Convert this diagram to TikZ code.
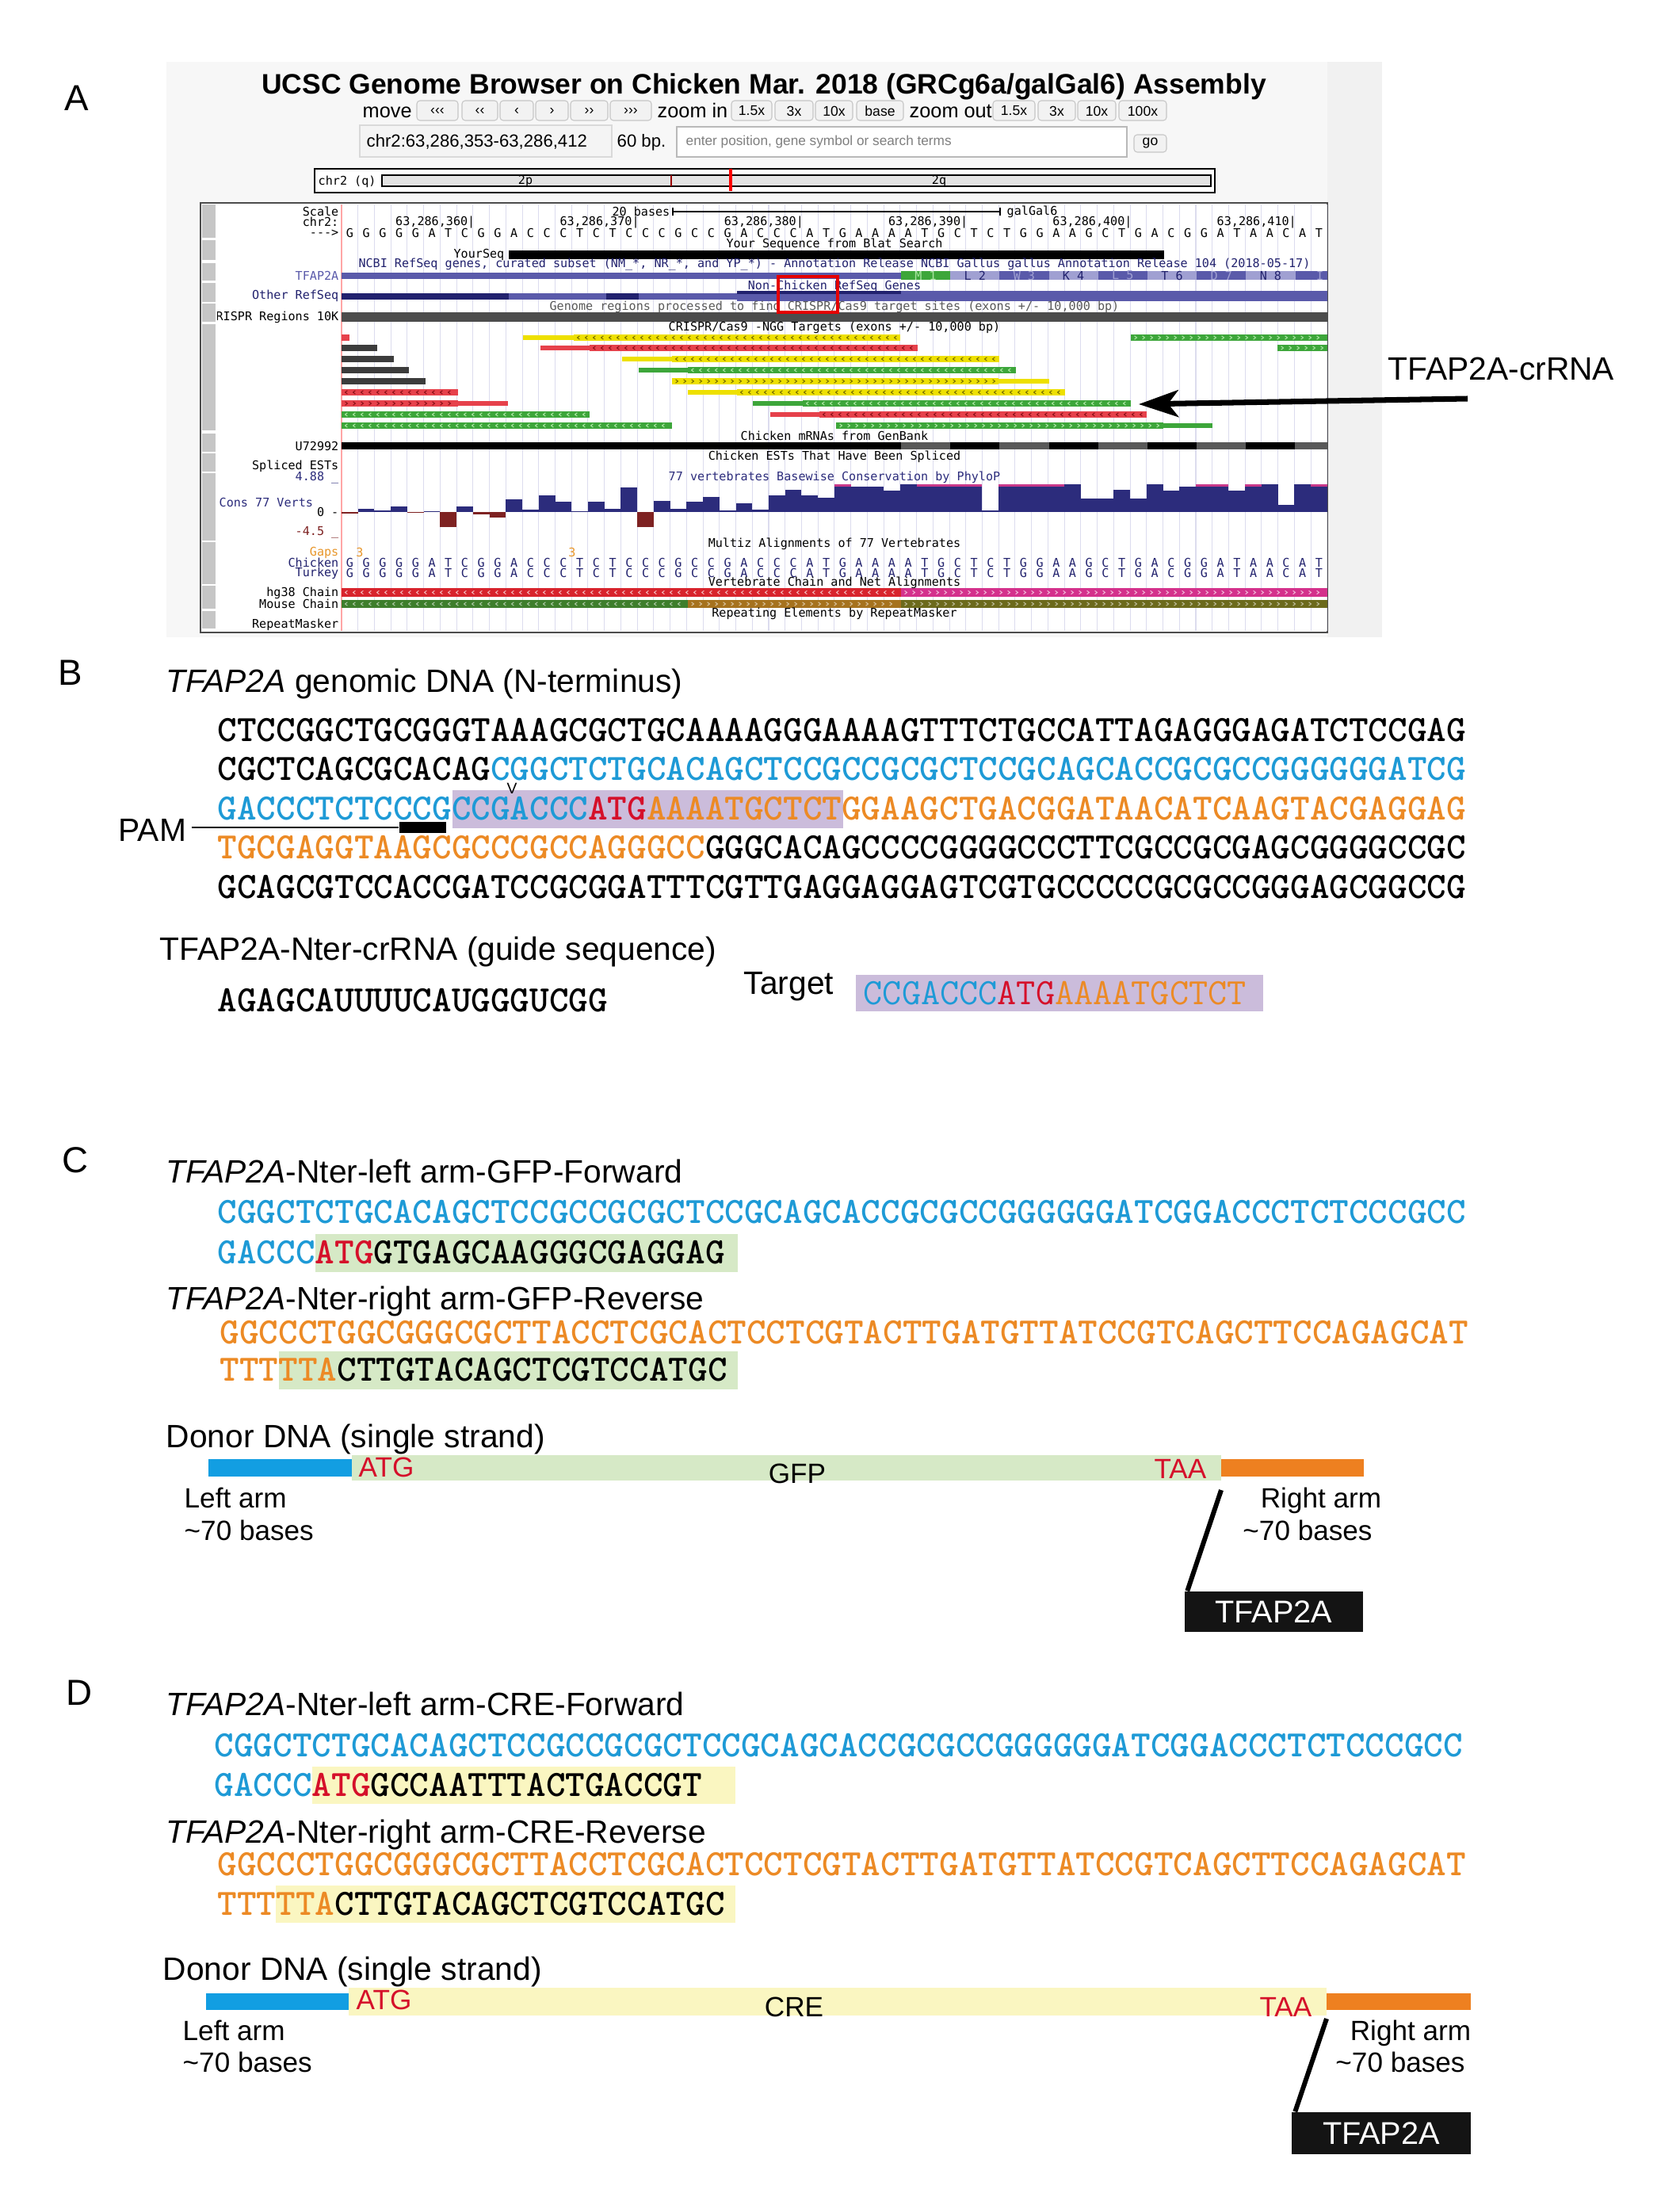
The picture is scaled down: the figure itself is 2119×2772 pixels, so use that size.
\documentclass[tikz,border=0pt]{standalone}
\usepackage{fontspec}
\setmainfont{Liberation Sans}
\newfontfamily\ucscfont{DejaVu Sans Mono}
\usetikzlibrary{arrows.meta}

\definecolor{armblue}{HTML}{1E9AD6}
\definecolor{armorange}{HTML}{EC8A25}
\definecolor{atgred}{HTML}{D5102A}
\definecolor{lavender}{HTML}{CBBCDB}
\definecolor{gfpgreen}{HTML}{D6E9C6}
\definecolor{creyellow}{HTML}{FAF6C1}
\definecolor{barblue}{HTML}{129EE2}
\definecolor{barorange}{HTML}{EE8020}
\definecolor{navy}{HTML}{22226E}
\definecolor{genecol}{HTML}{5A5AAA}
\definecolor{genelight}{HTML}{A0A0D2}
\definecolor{gridcol}{HTML}{DCDCEE}
\definecolor{crY}{HTML}{EEE000}
\definecolor{crR}{HTML}{E6414B}
\definecolor{crG}{HTML}{3DA63A}
\definecolor{crK}{HTML}{3C3C3C}
\definecolor{chY}{HTML}{7A7000}
\definecolor{chR}{HTML}{8E1018}
\definecolor{chG}{HTML}{A8E4A0}
\definecolor{consblue}{HTML}{2C2C7C}
\definecolor{consred}{HTML}{7E2222}
\definecolor{magcap}{HTML}{C8388A}
\definecolor{gapor}{HTML}{E8962A}
\definecolor{hgred}{HTML}{D8232C}
\definecolor{hgpink}{HTML}{D4318C}
\definecolor{mmgreen}{HTML}{3E7E2C}
\definecolor{mmbrown}{HTML}{A6721E}
\definecolor{mmolive}{HTML}{6C6A1C}

\begin{document}
\begin{tikzpicture}[x=0.1mm, y=-0.1mm,
  ut/.style={font=\ucscfont\fontsize{4.3}{5}\selectfont, inner sep=0pt},
  lab/.style={ut, anchor=east},
  panel/.style={font=\fontsize{13}{15}\selectfont, anchor=base west, inner sep=0pt},
  head/.style={font=\fontsize{11.6}{14}\selectfont, anchor=base west, inner sep=0pt},
  small/.style={font=\fontsize{10}{12}\selectfont, anchor=base, inner sep=0pt},
  seq/.style={font=\ttfamily\bfseries\fontsize{13.34}{16}\selectfont, anchor=base west, inner sep=0pt},
  btn/.style={draw=gray!45, fill=gray!10, rounded corners=0.4mm, line width=0.3pt},
  btntext/.style={font=\fontsize{5}{6}\selectfont, inner sep=0pt},
  nav/.style={font=\fontsize{7.2}{8}\selectfont, anchor=base west, inner sep=0pt},
  tfbox/.style={fill=black!92, text=white, font=\fontsize{11.3}{13}\selectfont, inner sep=0pt}]
    \newcommand{\chevs}[5]{
        \pgfmathsetmacro{\chvA}{#3+6}\pgfmathsetmacro{\chvB}{#3+16}\pgfmathsetmacro{\chvZ}{#4-4}
        \foreach \cx in {\chvA,\chvB,...,\chvZ}
          \draw[#1, line width=0.3pt] ({\cx-1.4*(#5)},#2-2.2) -- ({\cx+1.4*(#5)},#2) -- ({\cx-1.4*(#5)},#2+2.2);
    }
    \newcommand{\crbar}[7]{
        \fill[cr#1] (#3,#2-2.7) rectangle (#6,#2+2.7);
        \fill[cr#1] (#4,#2-4.3) rectangle (#5,#2+4.3);
        \chevs{ch#1}{#2}{#4}{#5}{#7}
    }
\useasboundingbox (0,0) rectangle (2119,2772);

% A: genome browser
\node[panel] (labA) at (81,140) {A};
\fill[gray!6] (210,78) rectangle (1744,804);
\fill[gray!11] (1675,78) rectangle (1744,804);
\node[font=\bfseries\fontsize{10.1}{12}\selectfont, anchor=base, inner sep=0pt] (title) at (964,119)
  {UCSC Genome Browser on Chicken Mar. 2018 (GRCg6a/galGal6) Assembly};
\node[nav] (move) at (457,149) {move};
\node[nav] (zin) at (829,149) {zoom in};
\node[nav] (zout) at (1147,149) {zoom out};
\foreach \t/\a/\b [count=\i] in {‹‹‹/526/578, ‹‹/583/628, ‹/631/673, ›/676/717, ››/720/767, ›››/770/822,
    1.5x/923/974, 3x/978/1026, 10x/1029/1076, base/1081/1140, 1.5x/1253/1306, 3x/1310/1357, 10x/1360/1408, 100x/1412/1472}{
  \draw[btn] (\a,127) rectangle (\b,152);
  \node[btntext] (nav\i) at ({(\a+\b)/2},140) {\t};
}
\draw[draw=gray!30, fill=gray!9] (454,158) rectangle (772,198);
\node[nav, font=\fontsize{6.3}{7}\selectfont] (pos) at (462,186) {chr2:63,286,353-63,286,412};
\node[nav, font=\fontsize{6.3}{7}\selectfont] (bp) at (778,186) {60 bp.};
\draw[draw=gray!55, fill=white, line width=0.4pt] (854,160) rectangle (1422,198);
\node[nav, font=\fontsize{4.9}{6}\selectfont, text=gray] (search) at (865,184) {enter position, gene symbol or search terms};
\draw[btn] (1431,170) rectangle (1472,192);
\node[btntext] (go) at (1451.5,181) {go};
\draw[fill=white, line width=0.4pt] (397,213) rectangle (1533,243);
\node[ut, anchor=west] (chrq) at (401,229) {chr2 (q)};
\draw[fill=gray!22, line width=0.4pt] (482,221) rectangle (1528,235);
\node[ut] (p2) at (663,228) {2p};
\node[ut] (q2) at (1185,228) {2q};
\draw[red!60!black, line width=0.5pt] (847,221) -- (847,235);
\draw[red, line width=1.1pt] (922,213) -- (922,241);

\draw[fill=white, draw=gray!60!black, line width=0.5pt] (253,256) rectangle (1675,798);
\foreach \a/\b in {258/300, 303/328, 332/354, 357/381, 383/406, 409/543, 547/570, 572/595, 597/682, 684/737, 739/768, 771/793}
  \fill[gray!45] (255,\a) rectangle (272,\b);
\begin{scope}
\clip (274,256) rectangle (1675,798);
\foreach \i in {0,...,60}
  \draw[gridcol, line width=0.3pt] ({431+20.73*\i},258) -- ({431+20.73*\i},796);
\draw[red!35, line width=0.3pt] (431,258) -- (431,796);

\node[lab] (scale) at (428,267) {Scale};
\node[ut, anchor=east] (b20) at (846,267) {20 bases};
\draw[line width=0.4pt] (849,262) -- (849,272) (849,267) -- (1262,267) (1262,262) -- (1262,272);
\node[ut, anchor=west] (gal) at (1270,267) {galGal6};
\node[lab] (chr) at (428,280) {chr2:};
\foreach \p [count=\i from 0] in {360,370,380,390,400,410}
  \node[ut, anchor=east] (tick\p) at ({600+207.3*\i},281) {63,286,\p|};
\node[lab] (fwd) at (428,294) {-{}-{}-{}>};
\foreach \b [count=\i from 0] in {G,G,G,G,G,A,T,C,G,G,A,C,C,C,T,C,T,C,C,C,G,C,C,G,A,C,C,C,A,T,
                                  G,A,A,A,A,T,G,C,T,C,T,G,G,A,A,G,C,T,G,A,C,G,G,A,T,A,A,C,A,T}{
  \node[ut] (s\i) at ({441.4+20.73*\i},294) {\b};
  \node[ut, text=navy] (k\i) at ({441.4+20.73*\i},710) {\b};
  \node[ut, text=navy] (t\i) at ({441.4+20.73*\i},723) {\b};
}

\node[ut] (blat) at (1053,308) {Your Sequence from Blat Search};
\node[ut, anchor=east] (yours) at (637,321) {YourSeq};
\fill[black] (642,316) rectangle (1469,327);
\node[ut, text=navy] (ncbi) at (1053,334) {NCBI RefSeq genes, curated subset (NM\_*, NR\_*, and YP\_*) - Annotation Release NCBI Gallus gallus Annotation Release 104 (2018-05-17)};
\node[lab, text=genecol] (tfl) at (428,348) {TFAP2A};
\fill[genecol] (431,344) rectangle (1137,352);
\foreach \t/\c/\f [count=\i from 0] in {M 1/crG/chG, L 2/genelight/navy, W 3/genecol/genelight, K 4/genelight/navy, L 5/genecol/genelight,
                                       T 6/genelight/navy, D 7/genecol/genelight, N 8/genelight/navy, I/genecol/genelight}{
  \fill[\c] ({1137+62.2*\i},342) rectangle +(62.2,11);
  \node[ut, text=\f] (ex\i) at ({1168+62.2*\i},347.5) {\t};
}
\node[ut, text=navy] (nonch) at (1053,361) {Non-Chicken RefSeq Genes};
\node[lab, text=navy] (other) at (428,373) {Other RefSeq};
\fill[navy] (431,370) rectangle (642,378);
\fill[genecol] (642,370) rectangle (765,378);
\fill[navy] (765,370) rectangle (806,378);
\fill[genecol] (806,370) rectangle (930,378);
\fill[genecol] (930,367) rectangle (1675,380);
\fill[navy] (930,367) rectangle (1137,371);
\node[ut, text=gray!70!black] (regions) at (1053,387) {Genome regions processed to find CRISPR/Cas9 target sites (exons +/- 10,000 bp)};
\node[lab] (crreg) at (428,400) {CRISPR Regions 10K};
\fill[gray!60!black] (431,394) rectangle (1675,406);
\node[ut] (ngg) at (1053,413) {CRISPR/Cas9 -NGG Targets (exons +/- 10,000 bp)};

\fill[crR] (431,421.7) rectangle (441,430.3);
\foreach \y/\e in {439/476, 453/497, 467/516, 481/537}
  \fill[crK] (431,\y-4.3) rectangle (\e,\y+4.3);
\crbar{Y}{426}{660}{724}{1136}{1136}{-1}
\crbar{G}{426}{1427}{1427}{1675}{1675}{1}
\crbar{R}{439}{682}{744}{1158}{1158}{-1}
\crbar{G}{439}{1612}{1612}{1675}{1675}{1}
\crbar{Y}{453}{785}{848}{1261}{1261}{-1}
\crbar{G}{467}{806}{868}{1282}{1282}{-1}
\crbar{Y}{481}{848}{848}{1260}{1324}{1}
\crbar{R}{495}{431}{431}{578}{578}{-1}
\crbar{Y}{495}{868}{930}{1344}{1344}{-1}
\crbar{R}{509}{431}{431}{578}{641}{1}
\crbar{G}{509}{950}{1013}{1427}{1427}{-1}
\crbar{G}{523}{431}{431}{744}{744}{-1}
\crbar{R}{523}{972}{1034}{1447}{1447}{-1}
\crbar{G}{537}{431}{431}{848}{848}{-1}
\crbar{G}{537}{1055}{1055}{1468}{1530}{1}

\node[ut] (mrna) at (1053,550) {Chicken mRNAs from GenBank};
\node[lab] (u72) at (428,563) {U72992};
\fill[black] (431,558) rectangle (1137,567);
\fill[gray!70!black] (1137,558) rectangle (1675,567);
\foreach \a in {1199,1324,1448,1572}
  \fill[black] (\a,558) rectangle +(62,9);
\node[ut] (ests) at (1053,576) {Chicken ESTs That Have Been Spliced};
\node[lab] (spl) at (428,588) {Spliced ESTs};
\node[ut, text=consblue] (phylo) at (1053,602) {77 vertebrates Basewise Conservation by PhyloP};
\node[lab, text=consblue] (top) at (428,603) {4.88 \_};
\node[ut, anchor=west, text=consblue] (cons) at (276,634) {Cons 77 Verts};
\node[lab] (zero) at (428,646) {0 -};
\node[lab, text=consred] (bot) at (428,672) {-4.5 \_};
\foreach \h [count=\i from 0] in {0,4.3,1.7,7.3,0,1,0,7.3,0,0,15.7,3.3,20.7,12.7,1,12.7,4.3,30.7,0,14,4.3,12.7,19.3,1.7,11,3,20.7,27.7,20.7,17.7,
                                  35,31.7,31.7,26.7,35,35,35,35,35,1.7,35,35,35,35,35,16.7,16.7,27.7,16.7,35,26.7,31.7,35,35,26.7,35,35,9.3,35,35}
  \fill[consblue] ({431+20.73*\i},646) rectangle +(20.73,-\h);
\foreach \b/\h in {0/2.3, 4/1, 6/19, 8/2.7, 9/6.7, 18/19}
  \fill[consred] ({431+20.73*\b},646) rectangle +(20.73,\h);
\foreach \b in {30,35,36,37,38,40,41,42,43,52,53,55,59}
  \fill[magcap] ({431+20.73*\b},611) rectangle +(20.73,2.5);
\node[ut] (multiz) at (1053,686) {Multiz Alignments of 77 Vertebrates};
\node[lab, text=gapor] (gaps) at (428,697) {Gaps};
\node[ut, text=gapor] (gap1) at (454,697) {3};
\node[ut, text=gapor] (gap2) at (722,697) {3};
\node[lab, text=navy] (chick) at (428,710) {Chicken};
\node[lab, text=navy] (turk) at (428,723) {Turkey};
\node[ut] (vchain) at (1053,735) {Vertebrate Chain and Net Alignments};
\node[lab] (hg) at (428,748) {hg38 Chain};
\fill[hgred] (431,742) rectangle (1137,753);
\fill[hgpink] (1137,742) rectangle (1675,753);
\chevs{hgred!35!white}{747.5}{431}{1137}{-1}
\chevs{hgpink!35!white}{747.5}{1137}{1675}{1}
\node[lab] (mm) at (428,762) {Mouse Chain};
\fill[mmgreen] (431,757) rectangle (868,767);
\fill[mmbrown] (868,757) rectangle (1137,767);
\fill[mmolive] (1137,757) rectangle (1675,767);
\chevs{mmgreen!45!white}{762}{431}{868}{-1}
\chevs{mmbrown!45!white}{762}{868}{1137}{1}
\chevs{mmolive!45!white}{762}{1137}{1675}{1}
\node[ut] (rep) at (1053,774) {Repeating Elements by RepeatMasker};
\node[lab] (rmask) at (428,788) {RepeatMasker};
\draw[red!90!black, line width=1.3pt] (982,349) rectangle (1057,394);
\end{scope}

\node[head] (crlab) at (1751,480) {TFAP2A-crRNA};
\coordinate (crtail) at (1852,503);
\coordinate (crtip) at (1437,510);
\draw[line width=2pt, -{Stealth[length=5mm, width=3.4mm, inset=1.3mm]}] (crtail) -- (crtip);

% B: genomic sequence
\node[panel] (labB) at (73,864) {B};
\node[head] (headB) at (209,873) {{\itshape TFAP2A} genomic DNA (N-terminus)};
\node[seq] (b1) at (274,935) {CTCCGGCTGCGGGTAAAGCGCTGCAAAAGGGAAAAGTTTCTGCCATTAGAGGGAGATCTCCGAG};
\node[seq] (b2) at (274,984) {CGCTCAGCGCACAG\textcolor{armblue}{CGGCTCTGCACAGCTCCGCCGCGCTCCGCAGCACCGCGCCGGGGGGATCG}};
\fill[lavender] (571,997) rectangle (1064,1045);
\node[seq] (b3) at (274,1034) {\textcolor{armblue}{GACCCTCTCCCGCCGACCC}\textcolor{atgred}{ATG}\textcolor{armorange}{AAAATGCTCTGGAAGCTGACGGATAACATCAAGTACGAGGAG}};
\node[seq] (b4) at (274,1083) {\textcolor{armorange}{TGCGAGGTAAGCGCCCGCCAGGGCC}GGGCACAGCCCCGGGGCCCTTCGCCGCGAGCGGGGCCGC};
\node[seq] (b5) at (274,1133) {GCAGCGTCCACCGATCCGCGGATTTCGTTGAGGAGGAGTCGTGCCCCCGCGCCGGGAGCGGCCG};
\node[font=\fontsize{5.5}{6}\selectfont, inner sep=0pt] (cutv) at (646,995) {V};
\node[head] (pam) at (149,1061) {PAM};
\node[fill=black, minimum width=5.9mm, minimum height=1.4mm, inner sep=0pt] (pambox) at (533.5,1044) {};
\draw[line width=0.6pt] ([xshift=0.6mm]pam.east |- pambox.west) -- (pambox.west);
\node[head] (guideh) at (201,1211) {TFAP2A-Nter-crRNA (guide sequence)};
\node[seq] (guide) at (274,1276) {AGAGCAUUUUCAUGGGUCGG};
\node[head] (targ) at (938,1254) {Target};
\node[fill=lavender, minimum width=51.4mm, minimum height=4.6mm, inner sep=0pt] (tbox) at (1337,1253) {};
\node[seq, font=\ttfamily\fontsize{13.34}{16}\selectfont] (tseq) at (1089,1267)
  {\textcolor{armblue}{CCGACCC}\textcolor{atgred}{ATG}\textcolor{armorange}{AAAATGCTCT}};

% C: GFP donor
\node[panel] (labC) at (78,1479) {C};
\node[head] (headC1) at (209,1492) {{\itshape TFAP2A}-Nter-left arm-GFP-Forward};
\node[seq] (c1) at (274,1543) {\textcolor{armblue}{CGGCTCTGCACAGCTCCGCCGCGCTCCGCAGCACCGCGCCGGGGGGATCGGACCCTCTCCCGCC}};
\fill[gfpgreen] (398,1557) rectangle (931,1605);
\node[seq] (c2) at (274,1594) {\textcolor{armblue}{GACCC}\textcolor{atgred}{ATG}GTGAGCAAGGGCGAGGAG};
\node[head] (headC2) at (209,1652) {{\itshape TFAP2A}-Nter-right arm-GFP-Reverse};
\node[seq] (c3) at (277,1695) {\textcolor{armorange}{GGCCCTGGCGGGCGCTTACCTCGCACTCCTCGTACTTGATGTTATCCGTCAGCTTCCAGAGCAT}};
\fill[gfpgreen] (352,1705) rectangle (931,1753);
\node[seq] (c4) at (277,1742) {\textcolor{armorange}{TTTTTA}CTTGTACAGCTCGTCCATGC};
\node[head] (donorC) at (209,1826) {Donor DNA (single strand)};
\fill[barblue] (263,1841) rectangle (444,1863);
\fill[gfpgreen] (444,1836) rectangle (1541,1868);
\fill[barorange] (1541,1841) rectangle (1721,1863);
\node[small, anchor=base west, text=atgred] (atgC) at (452,1863) {ATG};
\node[small] (gfp) at (1006,1871) {GFP};
\node[small, anchor=base east, text=atgred] (taaC) at (1523,1865) {TAA};
\node[small, anchor=base west] (laC) at (232,1902) {Left arm};
\node[small, anchor=base west] (lbC) at (232,1943) {\textasciitilde70 bases};
\node[small] (raC) at (1667,1902) {Right arm};
\node[small] (rbC) at (1650,1943) {\textasciitilde70 bases};
\node[tfbox, minimum width=22.5mm, minimum height=5.1mm] (boxC) at (1607.5,2033.5) {TFAP2A};
\coordinate (endC) at (1541,1880);
\draw[line width=1.7pt] (endC) -- ([xshift=0.4mm]boxC.north west);

% D: CRE donor
\node[panel] (labD) at (83,2151) {D};
\node[head] (headD1) at (209,2164) {{\itshape TFAP2A}-Nter-left arm-CRE-Forward};
\node[seq] (d1) at (270,2216) {\textcolor{armblue}{CGGCTCTGCACAGCTCCGCCGCGCTCCGCAGCACCGCGCCGGGGGGATCGGACCCTCTCCCGCC}};
\fill[creyellow] (394,2229) rectangle (928,2276);
\node[seq] (d2) at (270,2266) {\textcolor{armblue}{GACCC}\textcolor{atgred}{ATG}GCCAATTTACTGACCGT};
\node[head] (headD2) at (209,2325) {{\itshape TFAP2A}-Nter-right arm-CRE-Reverse};
\node[seq] (d3) at (274,2366) {\textcolor{armorange}{GGCCCTGGCGGGCGCTTACCTCGCACTCCTCGTACTTGATGTTATCCGTCAGCTTCCAGAGCAT}};
\fill[creyellow] (348,2379) rectangle (928,2426);
\node[seq] (d4) at (274,2416) {\textcolor{armorange}{TTTTTA}CTTGTACAGCTCGTCCATGC};
\node[head] (donorD) at (205,2498) {Donor DNA (single strand)};
\fill[barblue] (260,2515) rectangle (440,2536);
\fill[creyellow] (440,2508) rectangle (1674,2543);
\fill[barorange] (1674,2515) rectangle (1856,2536);
\node[small, anchor=base west, text=atgred] (atgD) at (449,2535) {ATG};
\node[small] (cre) at (1002,2544) {CRE};
\node[small, anchor=base east, text=atgred] (taaD) at (1656,2544) {TAA};
\node[small, anchor=base west] (laD) at (230,2574) {Left arm};
\node[small, anchor=base west] (lbD) at (230,2614) {\textasciitilde70 bases};
\node[small] (raD) at (1780,2574) {Right arm};
\node[small] (rbD) at (1767,2614) {\textasciitilde70 bases};
\node[tfbox, minimum width=22.6mm, minimum height=5.3mm] (boxD) at (1743,2691.5) {TFAP2A};
\coordinate (endD) at (1674,2547);
\draw[line width=1.7pt] (endD) -- ([xshift=0.5mm]boxD.north west);

\end{tikzpicture}
\end{document}
